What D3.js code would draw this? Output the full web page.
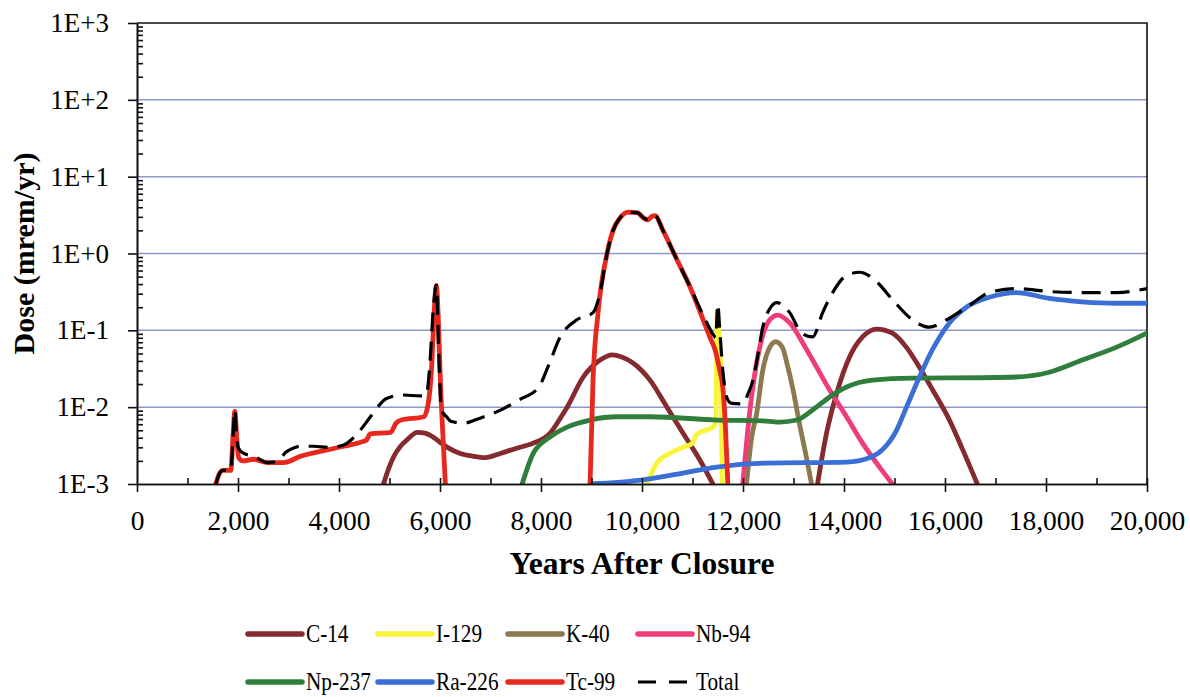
<!DOCTYPE html>
<html>
<head>
<meta charset="utf-8">
<script src="https://cdn.jsdelivr.net/npm/d3@7"></script>
<style>
  body { margin: 0; background: #fff; }
  text { font-family: "Liberation Serif", "Times New Roman", serif; fill: #000; }
</style>
</head>
<body>
<svg id="chart" width="1190" height="697"></svg>
<script>
// Dose by radionuclide, [years after closure, dose in mrem/yr]; null breaks a line below the axis floor
const c14 = [[4880,0.001],[5000,0.0017],[5080,0.00225],[5200,0.003],[5355,0.0038],[5550,0.0047],[5700,0.0046],[5810,0.0043],[6000,0.0035],[6146,0.003],[6400,0.0025],[6650,0.0023],[6900,0.0022],[7193,0.0025],[7500,0.0029],[7846,0.0034],[8182,0.0046],[8400,0.0075],[8518,0.01],[8834,0.0245],[9170,0.041],[9407,0.048],[9600,0.045],[9822,0.0376],[10158,0.0225],[10494,0.01],[10810,0.0046],[11146,0.00205],[11403,0.001],[12500,null],[13476,0.001],[13655,0.0046],[13853,0.015],[14110,0.045],[14367,0.082],[14644,0.104],[14960,0.092],[15237,0.06],[15494,0.033],[15750,0.017],[16087,0.0068],[16350,0.0028],[16640,0.001]];
const i129 = [[10100,0.001],[10300,0.0019],[10550,0.0025],[10810,0.003],[11000,0.0034],[11080,0.0044],[11150,0.0047],[11403,0.0055],[11460,0.0062],[11475,0.03],[11490,0.17],[11520,0.1],[11560,0.03],[11590,0.001]];
const k40 = [[12070,0.001],[12170,0.004],[12272,0.0084],[12391,0.03],[12529,0.06],[12648,0.071],[12780,0.06],[12880,0.035],[12990,0.017],[13120,0.006],[13240,0.0025],[13358,0.001]];
const nb94 = [[11994,0.001],[12094,0.005],[12193,0.018],[12331,0.06],[12529,0.137],[12687,0.158],[12925,0.125],[13261,0.056],[13716,0.0167],[14051,0.0075],[14367,0.0034],[14703,0.00166],[14960,0.001]];
const np237 = [[7627,0.001],[7846,0.0025],[8182,0.0041],[8518,0.0055],[8973,0.0068],[9506,0.0075],[10158,0.0075],[11481,0.0068],[12470,0.0066],[12727,0.0064],[13063,0.0068],[13380,0.0092],[13716,0.0136],[14051,0.0183],[14565,0.0225],[15356,0.0239],[16087,0.024],[17411,0.0247],[18063,0.0285],[18716,0.041],[19388,0.06],[20000,0.092]];
const ra226 = [[8971,0.001],[10019,0.00113],[10810,0.00139],[11481,0.00166],[12470,0.00187],[14051,0.00193],[14506,0.0022],[14763,0.0028],[15040,0.005],[15237,0.01],[15494,0.0247],[15751,0.056],[16087,0.125],[16423,0.2],[16878,0.27],[17411,0.31],[18063,0.26],[18716,0.235],[19388,0.225],[20000,0.225]];
const tc99 = [[1561,0.001],[1640,0.0014],[1700,0.0015],[1858,0.0015],[1900,0.004],[1937,0.0088],[1975,0.004],[2016,0.0022],[2095,0.002],[2312,0.0021],[2589,0.0019],[2905,0.0019],[3241,0.0023],[3893,0.0029],[4427,0.0035],[4540,0.0037],[4620,0.0045],[5020,0.0047],[5130,0.0062],[5230,0.0068],[5680,0.0075],[5760,0.0105],[5830,0.03],[5890,0.2],[5928,0.38],[5965,0.15],[6010,0.02],[6060,0.004],[6106,0.001],[7000,null],[8971,0.001],[9030,0.022],[9130,0.17],[9308,1.0],[9427,2.0],[9565,2.9],[9723,3.45],[9901,3.4],[10050,2.85],[10118,2.75],[10200,3.05],[10257,3.1],[10415,2.0],[10692,0.83],[10949,0.37],[11206,0.14],[11350,0.08],[11450,0.055],[11540,0.03],[11600,0.018],[11650,0.006],[11700,0.001]];
const total = [[1561,0.001],[1640,0.0014],[1700,0.0015],[1858,0.0015],[1900,0.004],[1937,0.0092],[1970,0.0045],[2000,0.003],[2115,0.0025],[2312,0.0023],[2589,0.0019],[2800,0.002],[2950,0.0026],[3030,0.0028],[3240,0.0031],[3500,0.0031],[3800,0.003],[4080,0.0032],[4250,0.0038],[4420,0.005],[4680,0.0084],[4940,0.013],[5280,0.0144],[5600,0.014],[5730,0.0145],[5790,0.03],[5870,0.2],[5928,0.39],[5975,0.05],[6030,0.0092],[6130,0.0075],[6225,0.0065],[6480,0.0062],[6720,0.0069],[6870,0.0075],[7250,0.0095],[7560,0.0124],[7950,0.018],[8150,0.035],[8380,0.082],[8710,0.137],[9030,0.17],[9170,0.31],[9308,1.0],[9427,2.0],[9565,2.9],[9723,3.45],[9901,3.4],[10050,2.85],[10118,2.75],[10200,3.05],[10257,3.1],[10415,2.0],[10692,0.83],[10949,0.37],[11206,0.16],[11403,0.09],[11460,0.08],[11500,0.22],[11540,0.1],[11600,0.03],[11700,0.0124],[11780,0.0112],[12000,0.011],[12100,0.015],[12193,0.022],[12300,0.05],[12391,0.11],[12550,0.2],[12670,0.23],[12800,0.21],[12925,0.17],[13162,0.092],[13380,0.082],[13577,0.17],[13775,0.31],[14051,0.52],[14308,0.57],[14644,0.43],[14961,0.25],[15356,0.137],[15692,0.11],[16028,0.137],[16482,0.21],[16878,0.31],[17411,0.35],[18063,0.32],[18716,0.31],[19388,0.31],[20000,0.35]];

const seriesNames = ["C-14", "I-129", "K-40", "Nb-94", "Np-237", "Ra-226", "Tc-99", "Total"];
const seriesData = [c14, i129, k40, nb94, np237, ra226, tc99, total];
const seriesColors = ["#852a2e", "#f8f43a", "#8c7a4e", "#ef3d79", "#2f7e3c", "#3b6fd5", "#e6281f", "#000000"];

const xTicks = [0, 2000, 4000, 6000, 8000, 10000, 12000, 14000, 16000, 18000, 20000];
const yTicks = [1e-3, 1e-2, 1e-1, 1e0, 1e1, 1e2, 1e3];
const yTickLabels = ["1E-3", "1E-2", "1E-1", "1E+0", "1E+1", "1E+2", "1E+3"];

const plotLeft = 137, plotRight = 1147, plotTop = 23, plotBottom = 484;
const svg = d3.select("#chart");
svg.append("rect").attr("width", 1190).attr("height", 697).attr("fill", "#fff");

const x = d3.scaleLinear().domain([0, 20000]).range([plotLeft, plotRight]);
const y = d3.scaleLog().domain([1e-3, 1e3]).range([plotBottom, plotTop]);

// horizontal gridlines at each decade
svg.append("g").selectAll("line")
  .data(yTicks.slice(1, -1))
  .join("line")
  .attr("x1", plotLeft).attr("x2", plotRight)
  .attr("y1", d => y(d)).attr("y2", d => y(d))
  .attr("stroke", "#8e97c8").attr("stroke-width", 1.5);

// plot frame (top and right)
svg.append("path")
  .attr("d", `M${plotLeft},${plotTop}H${plotRight}V${plotBottom}`)
  .attr("fill", "none").attr("stroke", "#111").attr("stroke-width", 1.6);

// series lines, clipped to the plot area
svg.append("clipPath").attr("id", "plotClip")
  .append("rect").attr("x", plotLeft).attr("y", plotTop)
  .attr("width", plotRight - plotLeft).attr("height", plotBottom - plotTop);

const line = d3.line()
  .defined(d => d[1] != null)
  .x(d => x(d[0]))
  .y(d => y(d[1]))
  .curve(d3.curveMonotoneX);

const plot = svg.append("g").attr("clip-path", "url(#plotClip)");
seriesData.forEach((data, i) => {
  const isTotal = seriesNames[i] === "Total";
  plot.append("path")
    .datum(data)
    .attr("d", line)
    .attr("fill", "none")
    .attr("stroke", seriesColors[i])
    .attr("stroke-width", isTotal ? 3.2 : 4.8)
    .attr("stroke-linejoin", "round")
    .attr("stroke-linecap", isTotal ? "butt" : "round")
    .attr("stroke-dasharray", isTotal ? "19,10" : null);
});

// y axis: major ticks outward with labels, minor log ticks inward
const yAxis = svg.append("g").attr("transform", `translate(${plotLeft},0)`)
  .call(d3.axisLeft(y).tickValues(yTicks).tickSize(9).tickSizeOuter(0).tickPadding(19)
    .tickFormat((d, i) => yTickLabels[i]));
const minorY = [];
yTicks.slice(0, -1).forEach(d => { for (let k = 2; k <= 9; k++) minorY.push(d * k); });
svg.append("g").attr("transform", `translate(${plotLeft},0)`)
  .call(d3.axisLeft(y).tickValues(minorY).tickSize(-6).tickSizeOuter(0).tickFormat(""));

// x axis: major ticks cross the axis, minor ticks point inward
const xAxis = svg.append("g").attr("transform", `translate(0,${plotBottom})`)
  .call(d3.axisBottom(x).tickValues(xTicks).tickSize(8).tickSizeOuter(0).tickPadding(18)
    .tickFormat(d3.format(",")));
svg.append("g").attr("transform", `translate(0,${plotBottom})`)
  .call(d3.axisBottom(x).tickValues(d3.range(1000, 20001, 1000)).tickSize(-6).tickSizeOuter(0).tickFormat(""));

svg.selectAll(".domain").attr("stroke", "#111").attr("stroke-width", 1.6);
svg.selectAll(".tick line").attr("stroke", "#111").attr("stroke-width", 1.6);
yAxis.selectAll("text").attr("font-size", 27).attr("font-family", "Liberation Serif");
xAxis.selectAll("text").attr("font-size", 27.5).attr("font-family", "Liberation Serif");

// axis titles
svg.append("text")
  .attr("x", (plotLeft + plotRight) / 2).attr("y", 574)
  .attr("text-anchor", "middle")
  .attr("font-size", 31.5).attr("font-weight", "bold")
  .text("Years After Closure");
svg.append("text")
  .attr("transform", `translate(34,${(plotTop + plotBottom) / 2}) rotate(-90)`)
  .attr("text-anchor", "middle")
  .attr("font-size", 30).attr("font-weight", "bold")
  .text("Dose (mrem/yr)");

// legend, two rows of four
const legend = svg.append("g");
seriesNames.forEach((name, i) => {
  const col = i % 4, row = Math.floor(i / 4);
  const lx = 248 + col * 130, ly = 634 + row * 48;
  const isTotal = name === "Total";
  legend.append("line")
    .attr("x1", lx).attr("x2", lx + 54).attr("y1", ly).attr("y2", ly)
    .attr("stroke", seriesColors[i])
    .attr("stroke-width", isTotal ? 3.2 : 5.5)
    .attr("stroke-linecap", isTotal ? "butt" : "round")
    .attr("stroke-dasharray", isTotal ? "18,13" : null);
  legend.append("text")
    .attr("transform", `translate(${lx + 58},${ly + 8}) scale(0.85,1)`)
    .attr("font-size", 25)
    .text(name);
});
</script>
</body>
</html>
